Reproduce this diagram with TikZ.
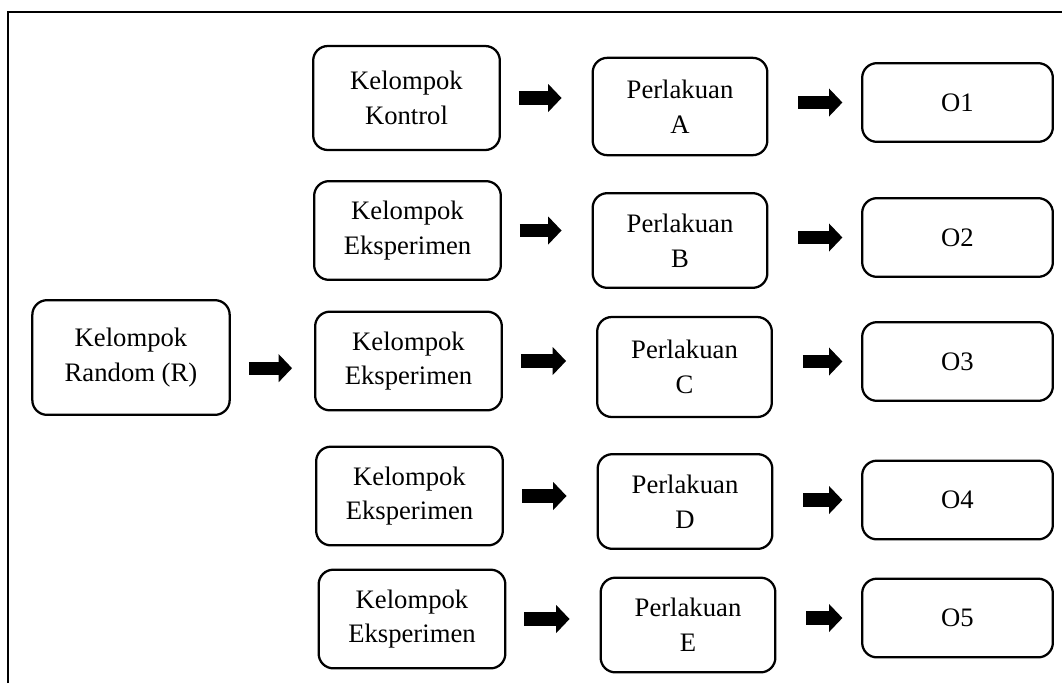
\documentclass[tikz,border=0pt]{standalone}
\usepackage{fontspec}
\setmainfont{Liberation Serif}
\usetikzlibrary{arrows.meta}

\tikzset{
  kotak/.style={draw, rounded corners=11pt, line width=1.7pt, align=center,
    inner sep=0pt, font=\fontsize{20}{26}\selectfont},
  kelompok/.style={kotak, minimum width=140pt, minimum height=74pt},
  perlakuan/.style={kotak, minimum width=131pt, minimum height=71pt},
  hasil/.style={kotak, minimum width=143pt, minimum height=59pt},
  panah/.style={line width=10pt, line cap=butt,
    -{Triangle[length=10pt, width=21pt, line width=0pt]}},
  panahkiri/.style={panah, shorten <=13.5pt, shorten >=22.5pt},
  panahkanan/.style={panah, shorten <=22.5pt, shorten >=14pt}
}

\begin{document}
\begin{tikzpicture}[x=0.75pt, y=-0.75pt]

                \useasboundingbox (0,0) rectangle (1062,683);
                \draw[line width=1.6pt] (8,683) -- (8,12) -- (1062,12);

                % kelompok random
                \node[kotak, minimum width=148pt, minimum height=86pt] (r) at (131,357.5) {Kelompok\\Random (R)};

                % baris 1
                \node[kelompok, minimum height=78pt] (k1) at (406.5,98) {Kelompok\\Kontrol};
                \node[perlakuan, minimum height=73pt] (p1) at (680,106.5) {Perlakuan\\A};
                \node[hasil] (o1) at (957.5,102.5) {O1};

                % baris 2
                \node[kelompok] (k2) at (407.5,230.5) {Kelompok\\Eksperimen};
                \node[perlakuan] (p2) at (680,240.5) {Perlakuan\\B};
                \node[hasil] (o2) at (957.5,237.5) {O2};

                % baris 3
                \node[kelompok] (k3) at (408.5,361) {Kelompok\\Eksperimen};
                \node[perlakuan, minimum height=75pt] (p3) at (684.5,367) {Perlakuan\\C};
                \node[hasil] (o3) at (957.5,361.5) {O3};

                % baris 4
                \node[kelompok] (k4) at (409.5,496) {Kelompok\\Eksperimen};
                \node[perlakuan] (p4) at (685,501.5) {Perlakuan\\D};
                \node[hasil] (o4) at (957.5,500) {O4};

                % baris 5
                \node[kelompok] (k5) at (412,619) {Kelompok\\Eksperimen};
                \node[perlakuan] (p5) at (688,625) {Perlakuan\\E};
                \node[hasil] (o5) at (957.5,618) {O5};

                % panah
                \draw[panah, shorten <=13.5pt, shorten >=16.5pt] ([yshift=-8pt]r.east) -- ([yshift=-8pt]r.east -| k3.west);
                \draw[panahkiri] (k1.east) -- (k1.east -| p1.west);
                \draw[panahkanan] (p1.east |- o1.west) -- (o1.west);
                \draw[panahkiri] (k2.east) -- (k2.east -| p2.west);
                \draw[panahkanan] (p2.east |- o2.west) -- (o2.west);
                \draw[panahkiri] (k3.east) -- (k3.east -| p3.west);
                \draw[panahkanan] (p3.east |- o3.west) -- (o3.west);
                \draw[panahkiri] (k4.east) -- (k4.east -| p4.west);
                \draw[panahkanan] (p4.east |- o4.west) -- (o4.west);
                \draw[panahkiri] (k5.east) -- (k5.east -| p5.west);
                \draw[panahkanan] (p5.east |- o5.west) -- (o5.west);
\end{tikzpicture}
\end{document}
